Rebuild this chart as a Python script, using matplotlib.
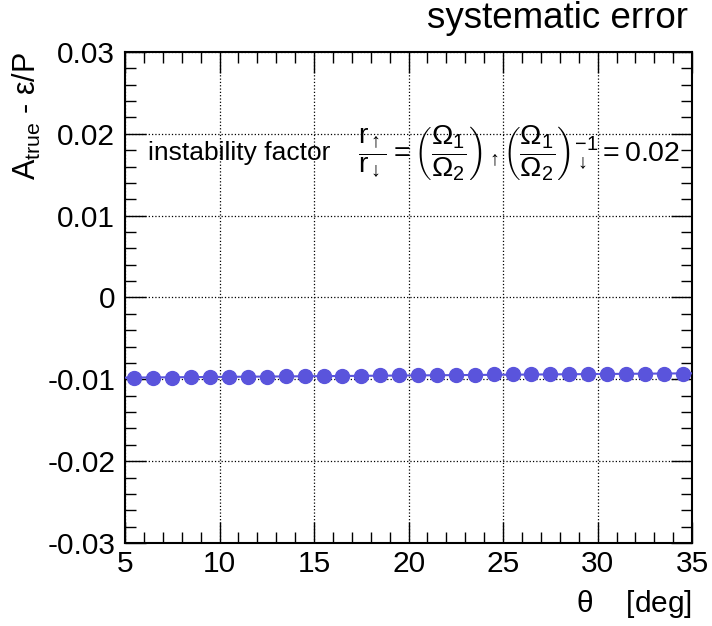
import numpy as np
import matplotlib
matplotlib.use("Agg")
import matplotlib.pyplot as plt
from matplotlib.ticker import MultipleLocator

plt.rcParams['font.family'] = ['Liberation Sans', 'DejaVu Sans']
plt.rcParams['mathtext.fontset'] = 'custom'
plt.rcParams['mathtext.rm'] = 'Liberation Sans'
plt.rcParams['mathtext.it'] = 'Liberation Sans'
plt.rcParams['mathtext.bf'] = 'Liberation Sans:bold'

# data
theta = [5.5 + i for i in range(30)]
asym = [-0.0098, -0.0098, -0.0098, -0.0097, -0.0097, -0.0097, -0.0097, -0.0097,
        -0.0096, -0.0096, -0.0096, -0.0096, -0.0096, -0.0095, -0.0095, -0.0095,
        -0.0095, -0.0095, -0.0095, -0.0094, -0.0094, -0.0094, -0.0094, -0.0094,
        -0.0094, -0.0094, -0.0093, -0.0093, -0.0093, -0.0093]

col = '#5a54dc'

fig = plt.figure(figsize=(7.12, 6.26), dpi=100)
ax = fig.add_axes([0.1756, 0.1326, 0.7965, 0.7844])

# straight line fit through the points
p = np.polyfit(theta, asym, 1)
xx = np.array([5, 35])
ax.plot(xx, np.polyval(p, xx), color=col, lw=1.5, zorder=3)
ax.plot(theta, asym, 'o', color=col, ms=10, zorder=4)

ax.set_xlim(5, 35)
ax.set_ylim(-0.03, 0.03)
ax.xaxis.set_major_locator(MultipleLocator(5))
ax.xaxis.set_minor_locator(MultipleLocator(1))
ax.yaxis.set_major_locator(MultipleLocator(0.01))
ax.yaxis.set_minor_locator(MultipleLocator(0.002))
ax.set_yticks([-0.03, -0.02, -0.01, 0, 0.01, 0.02, 0.03])
ax.set_yticklabels(['-0.03', '-0.02', '-0.01', '0', '0.01', '0.02', '0.03'])
ax.tick_params(which='both', direction='in', top=True, right=True, labelsize=21.5)
ax.tick_params(which='major', length=15, width=1)
ax.tick_params(which='minor', length=8, width=1)
ax.tick_params(axis='x', pad=5)
ax.tick_params(axis='y', pad=7)
ax.grid(True, which='major', color='black', ls=':', lw=0.9)
for s in ax.spines.values():
    s.set_linewidth(1.5)

fig.text(0.966, 0.955, 'systematic error', ha='right', va='baseline', fontsize=26.5)
fig.text(0.972, 0.0224, r'$\theta$    [deg]', ha='right', va='baseline', fontsize=21.5)
fig.text(0.015, 0.917, r'A$_{\mathrm{true}}$ - $\epsilon$/P', rotation=90,
         ha='left', va='top', fontsize=22)

ax.text(6.2, 0.0177, 'instability factor', fontsize=19, va='center')
ax.text(17.3, 0.0177,
        r'$\dfrac{r_{\uparrow}}{r_{\downarrow}} = \left(\dfrac{\Omega_1}{\Omega_2}\right)_{\uparrow}'
        r'\left(\dfrac{\Omega_1}{\Omega_2}\right)^{-1}_{\downarrow} = 0.02$',
        fontsize=20.5, va='center')

fig.savefig('out.png', dpi=100)
